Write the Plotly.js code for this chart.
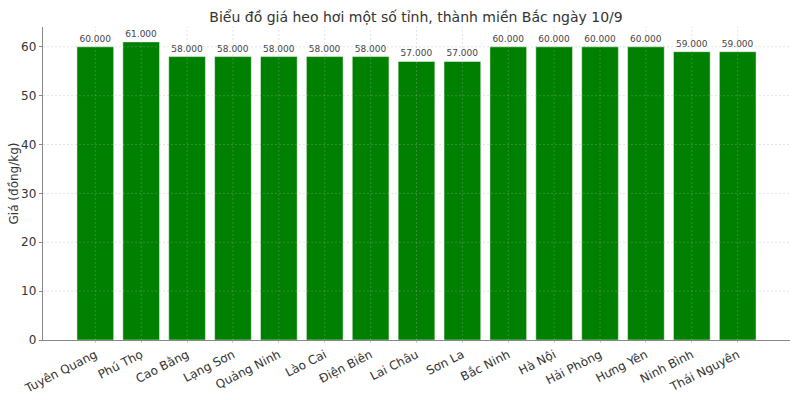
<!DOCTYPE html>
<html>
<head>
<meta charset="utf-8">
<script src="https://cdn.plot.ly/plotly-3.0.1.min.js"></script>
<style>body{margin:0;} #chart{width:800px;height:400px;}</style>
</head>
<body>
<div id="chart"></div>
<script>
const provinces = ["Tuyên Quang","Phú Thọ","Cao Bằng","Lạng Sơn","Quảng Ninh","Lào Cai","Điện Biên","Lai Châu","Sơn La","Bắc Ninh","Hà Nội","Hải Phòng","Hưng Yên","Ninh Bình","Thái Nguyên"];
const prices = [60,61,58,58,58,58,58,57,57,60,60,60,60,59,59];
const priceLabels = ["60.000","61.000","58.000","58.000","58.000","58.000","58.000","57.000","57.000","60.000","60.000","60.000","60.000","59.000","59.000"];
const yTicks = [0,10,20,30,40,50,60];

const FONT = "DejaVu Sans, sans-serif";
const gridStyle = {color:"rgba(170,170,170,0.4)", width:0.8, dash:"2px,2px"};
const shapes = [];
provinces.forEach((p,i)=>{
  shapes.push({type:"line", xref:"x", yref:"paper", x0:i, x1:i, y0:0, y1:1, layer:"above", line:gridStyle});
});
yTicks.slice(1).forEach(v=>{
  shapes.push({type:"line", xref:"paper", yref:"y", x0:0, x1:1, y0:v, y1:v, layer:"above", line:gridStyle});
});

const trace = {
  type:"bar",
  x: provinces.map((p,i)=>i),
  y: prices,
  width: 0.8,
  marker:{color:"#008000", line:{color:"rgba(255,255,255,0.6)", width:0.8}},
  text: priceLabels,
  textposition:"outside",
  cliponaxis:false,
  textfont:{family:FONT, size:9, color:"#444"},
  hoverinfo:"skip"
};

const layout = {
  width:800, height:400,
  margin:{l:43, r:10, t:27, b:60},
  paper_bgcolor:"#fff", plot_bgcolor:"#fff",
  title:{text:"Biểu đồ giá heo hơi một số tỉnh, thành miền Bắc ngày 10/9", font:{family:FONT, size:14, color:"#333"}, x:0.52, xanchor:"center", y:0.97, yanchor:"top"},
  xaxis:{
    range:[-1.14, 15.14],
    tickmode:"array", tickvals: provinces.map((p,i)=>i), ticktext: provinces,
    tickangle:-27, tickfont:{family:FONT, size:12, color:"#333"},
    showgrid:false, zeroline:false,
    showline:true, linecolor:"#888", linewidth:1.2,
    ticks:"outside", ticklen:2, tickcolor:"#ccc", fixedrange:true
  },
  yaxis:{
    range:[0, 64.05],
    tickmode:"array", tickvals:yTicks,
    tickfont:{family:FONT, size:12, color:"#333"},
    showgrid:false, zeroline:false,
    showline:true, linecolor:"#888", linewidth:1.2,
    ticks:"outside", ticklen:3, tickcolor:"#888",
    title:{text:"Giá (đồng/kg)", font:{family:FONT, size:12, color:"#333"}, standoff:0}
  },
  bargap:0.2,
  shapes: shapes,
  showlegend:false
};

Plotly.newPlot("chart", [trace], layout, {displayModeBar:false, staticPlot:true});
</script>
</body>
</html>
